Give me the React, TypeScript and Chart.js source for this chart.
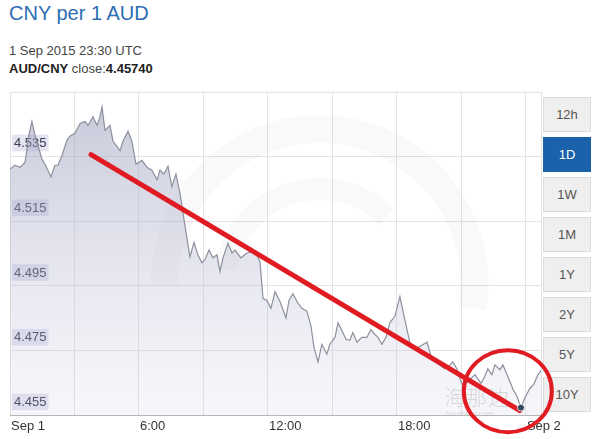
import React, { useEffect, useRef } from "react";
import { Chart, registerables } from "chart.js";

Chart.register(...registerables);

// ---- data (hours after Sep 1 00:00, AUD/CNY rate) ----
const hours = [
  0, 0.23, 0.47, 0.7, 0.88, 1.02, 1.16, 1.49, 1.63, 1.91, 2.09, 2.23, 2.42, 2.65, 2.79, 3.02,
  3.26, 3.49, 3.63, 3.86, 4.05, 4.19, 4.28, 4.42, 4.65, 4.79, 5.12, 5.26, 5.49, 5.67, 5.86,
  6.14, 6.37, 6.6, 6.84, 6.98, 7.16, 7.35, 7.53, 7.72, 7.91, 8.14, 8.37, 8.56, 8.74, 8.93,
  9.07, 9.26, 9.44, 9.63, 9.77, 9.91, 10.14, 10.33, 10.47, 10.74, 11.02, 11.26, 11.49, 11.63,
  11.77, 11.95, 12.14, 12.33, 12.56, 12.84, 12.98, 13.16, 13.4, 13.58, 13.81, 14.0, 14.14,
  14.33, 14.51, 14.74, 14.88, 15.12, 15.26, 15.44, 15.63, 15.81, 15.95, 16.14, 16.37, 16.6,
  16.79, 16.98, 17.12, 17.3, 17.49, 17.67, 17.91, 18.14, 18.37, 18.6, 18.84, 19.16, 19.4,
  19.63, 20.0, 20.23, 20.47, 20.6, 20.79, 20.93, 21.07, 21.4, 21.63, 21.91, 22.09, 22.23,
  22.42, 22.56, 22.79, 22.93, 23.16, 23.4, 23.58, 23.77, 23.95, 24.19, 24.37, 24.56, 24.74,
];
const rates = [
  4.5311, 4.5323, 4.5317, 4.5332, 4.5416, 4.5458, 4.5416, 4.5341, 4.5326, 4.5287, 4.5323,
  4.5323, 4.5353, 4.5401, 4.5413, 4.5422, 4.5452, 4.5458, 4.5446, 4.5473, 4.5446, 4.5473,
  4.5503, 4.5431, 4.5446, 4.5398, 4.5368, 4.5398, 4.5428, 4.5398, 4.5326, 4.5338, 4.5317,
  4.5308, 4.5278, 4.5308, 4.5296, 4.532, 4.5257, 4.5296, 4.5236, 4.5136, 4.504, 4.5085,
  4.5046, 4.5022, 4.5031, 4.5061, 4.5037, 4.5046, 4.4995, 4.5037, 4.5082, 4.5052, 4.5061,
  4.5037, 4.5052, 4.5055, 4.5046, 4.5025, 4.4911, 4.4905, 4.4881, 4.4932, 4.4902, 4.4851,
  4.4905, 4.4926, 4.4896, 4.4881, 4.4872, 4.4827, 4.4761, 4.4715, 4.477, 4.4739, 4.477,
  4.4791, 4.4836, 4.4812, 4.4785, 4.4782, 4.4806, 4.4776, 4.4791, 4.4791, 4.4815, 4.48,
  4.4791, 4.477, 4.4791, 4.4836, 4.4857, 4.4917, 4.4845, 4.4776, 4.4755, 4.4767, 4.4776,
  4.4724, 4.4706, 4.4694, 4.4706, 4.4715, 4.4694, 4.4664, 4.464, 4.4661, 4.4676, 4.4649,
  4.467, 4.4694, 4.4676, 4.4706, 4.4691, 4.4706, 4.467, 4.4631, 4.461, 4.4574, 4.4604,
  4.4634, 4.4646, 4.4676, 4.4691,
];
const closeHour = [23.77];
const closeRate = [4.4574];
const trendHours = [3.77, 23.72];
const trendRates = [4.5356, 4.4565];
const circleHour = 23.16;
const circleRate = 4.4625;

const xMin = 0;
const xMax = 24.75;
const yMin = 4.455;
const yMax = 4.555;
const gridHours = [0, 3, 6, 9, 12, 15, 18, 21, 24];
const xLabelHours = [0, 6, 12, 18, 24];
const xLabels = ["Sep 1", "6:00", "12:00", "18:00", "Sep 2"];
const yTicks = [4.455, 4.475, 4.495, 4.515, 4.535];
const ranges = ["12h", "1D", "1W", "1M", "1Y", "2Y", "5Y", "10Y"];
const activeRange = "1D";

const FONT = "Arial, 'Liberation Sans', sans-serif";

const decorPlugin = {
  id: "decor",
  beforeDatasetsDraw(chart: any) {
    const { ctx, chartArea: a, scales } = chart;
    const x = scales.x;
    const y = scales.y;
    ctx.save();
    ctx.beginPath();
    ctx.rect(a.left, a.top, a.right - a.left, a.bottom - a.top);
    ctx.clip();
    const cx = x.getPixelForValue(14.4);
    const cy = y.getPixelForValue(4.4956);
    ctx.strokeStyle = "rgba(0,0,0,0.022)";
    ctx.lineWidth = 28;
    ctx.beginPath();
    ctx.arc(cx, cy, 155, Math.PI * 1.0, Math.PI * 2.05);
    ctx.stroke();
    ctx.lineWidth = 22;
    ctx.beginPath();
    ctx.arc(cx, cy, 95, Math.PI * 1.05, Math.PI * 1.75);
    ctx.stroke();
    ctx.restore();
  },
  afterDatasetsDraw(chart: any) {
    const { ctx, chartArea: a, scales } = chart;
    ctx.save();
    ctx.strokeStyle = "#e2e2e2";
    ctx.lineWidth = 1;
    ctx.beginPath();
    ctx.moveTo(a.left, a.top + 0.5);
    ctx.lineTo(a.right, a.top + 0.5);
    ctx.moveTo(a.right - 0.5, a.top);
    ctx.lineTo(a.right - 0.5, a.bottom);
    ctx.stroke();
    const cx = scales.x.getPixelForValue(circleHour);
    const cy = scales.y.getPixelForValue(circleRate);
    ctx.strokeStyle = "#e11b22";
    ctx.lineWidth = 4;
    ctx.beginPath();
    ctx.ellipse(cx, cy, 44, 41, 0, 0, Math.PI * 2);
    ctx.stroke();
    ctx.restore();
  },
};

export default function App() {
  const canvasRef = useRef<HTMLCanvasElement | null>(null);

  useEffect(() => {
    const canvas = canvasRef.current;
    if (!canvas) return;
    const areaData = hours.map((h, i) => ({ x: h, y: rates[i] }));
    const trendData = trendHours.map((h, i) => ({ x: h, y: trendRates[i] }));
    const closeData = closeHour.map((h, i) => ({ x: h, y: closeRate[i] }));

    const chart = new Chart(canvas, {
      type: "line",
      data: {
        datasets: [
          {
            data: closeData,
            showLine: false,
            pointRadius: 3.5,
            pointBackgroundColor: "#34475f",
            pointBorderColor: "rgba(255,255,255,0.8)",
            pointBorderWidth: 1,
            order: 0,
          } as any,
          {
            data: trendData,
            borderColor: "#e11b22",
            borderWidth: 5,
            borderCapStyle: "round",
            pointRadius: 0,
            fill: false,
            order: 1,
          },
          {
            data: areaData,
            borderColor: "#8d909c",
            borderWidth: 1.2,
            pointRadius: 0,
            tension: 0,
            fill: "start",
            backgroundColor: (ctx: any) => {
              const c = ctx.chart;
              const a = c.chartArea;
              if (!a) return "rgba(150,155,185,0.4)";
              const g = c.ctx.createLinearGradient(0, a.top, 0, a.bottom);
              g.addColorStop(0, "rgba(150,155,185,0.55)");
              g.addColorStop(1, "rgba(200,200,225,0.15)");
              return g;
            },
            order: 2,
          },
        ],
      },
      options: {
        responsive: false,
        animation: false,
        layout: { padding: { left: 2, right: 58, top: 3, bottom: 2 } },
        plugins: {
          legend: { display: false },
          tooltip: { enabled: false },
        },
        scales: {
          x: {
            type: "linear",
            min: xMin,
            max: xMax,
            afterBuildTicks: (scale: any) => {
              scale.ticks = gridHours.map((v) => ({ value: v }));
            },
            grid: { color: "#e4e4e4", lineWidth: 1, drawTicks: false },
            border: { color: "#b5b5b5", width: 1 },
            ticks: {
              autoSkip: false,
              maxRotation: 0,
              align: "start",
              labelOffset: 1,
              padding: 3,
              color: "#333",
              font: { family: FONT, size: 13 },
              callback: (value: any) => {
                const idx = xLabelHours.indexOf(Number(value));
                return idx >= 0 ? xLabels[idx] : "";
              },
            },
          },
          y: {
            type: "linear",
            min: yMin,
            max: yMax,
            afterBuildTicks: (scale: any) => {
              scale.ticks = yTicks.map((v) => ({ value: v }));
            },
            grid: { color: "#e4e4e4", lineWidth: 1, drawTicks: false },
            border: { display: false },
            ticks: {
              mirror: true,
              padding: 4,
              labelOffset: -13,
              color: "#3c3c50",
              font: { family: FONT, size: 13 },
              showLabelBackdrop: true,
              backdropColor: "rgba(222,222,238,0.85)",
              backdropPadding: { top: 1, bottom: 0, left: 2, right: 2 },
              callback: (value: any) => Number(value).toFixed(3),
            },
          },
        },
      },
      plugins: [decorPlugin],
    });
    return () => chart.destroy();
  }, []);

  return (
    <div
      style={{
        position: "fixed",
        left: 0,
        top: 0,
        width: 600,
        height: 439,
        background: "#fff",
        fontFamily: FONT,
        overflow: "hidden",
      }}
    >
      <div
        style={{
          position: "absolute",
          left: 9,
          top: 3,
          fontSize: 20,
          lineHeight: "20px",
          color: "#2c6db4",
          whiteSpace: "nowrap",
        }}
      >
        CNY per 1 AUD
      </div>
      <div
        style={{
          position: "absolute",
          left: 9,
          top: 44,
          fontSize: 13,
          lineHeight: "13px",
          color: "#444",
          whiteSpace: "nowrap",
        }}
      >
        1 Sep 2015 23:30 UTC
      </div>
      <div
        style={{
          position: "absolute",
          left: 9,
          top: 62,
          fontSize: 13,
          lineHeight: "13px",
          color: "#444",
          whiteSpace: "nowrap",
        }}
      >
        <b style={{ color: "#222" }}>AUD/CNY</b> close:<b style={{ color: "#222" }}>4.45740</b>
      </div>
      {ranges.map((r, i) => {
        const active = r === activeRange;
        return (
          <div
            key={r}
            style={{
              position: "absolute",
              left: 543,
              top: 97 + i * 40,
              width: 48,
              height: 35,
              boxSizing: "border-box",
              border: active ? "1px solid #1a63ab" : "1px solid #dcdcdc",
              background: active ? "#1a63ab" : "#efefef",
              color: active ? "#fff" : "#555",
              fontSize: 13,
              lineHeight: "33px",
              textAlign: "center",
            }}
          >
            {r}
          </div>
        );
      })}
      <div
        style={{
          position: "absolute",
          left: 444,
          top: 384,
          fontSize: 21,
          lineHeight: "24px",
          letterSpacing: 1,
          color: "rgba(120,120,120,0.3)",
          fontFamily: "'Noto Sans CJK SC', sans-serif",
          fontWeight: 300,
          whiteSpace: "nowrap",
        }}
      >
        海那边
      </div>
      <div
        style={{
          position: "absolute",
          left: 446,
          top: 410,
          fontSize: 8,
          lineHeight: "8px",
          color: "rgba(120,120,120,0.3)",
          whiteSpace: "nowrap",
        }}
      >
        hinabian.com
      </div>
      <canvas
        ref={canvasRef}
        width={600}
        height={359}
        style={{ position: "absolute", left: 0, top: 80, width: 600, height: 359 }}
      />
    </div>
  );
}
